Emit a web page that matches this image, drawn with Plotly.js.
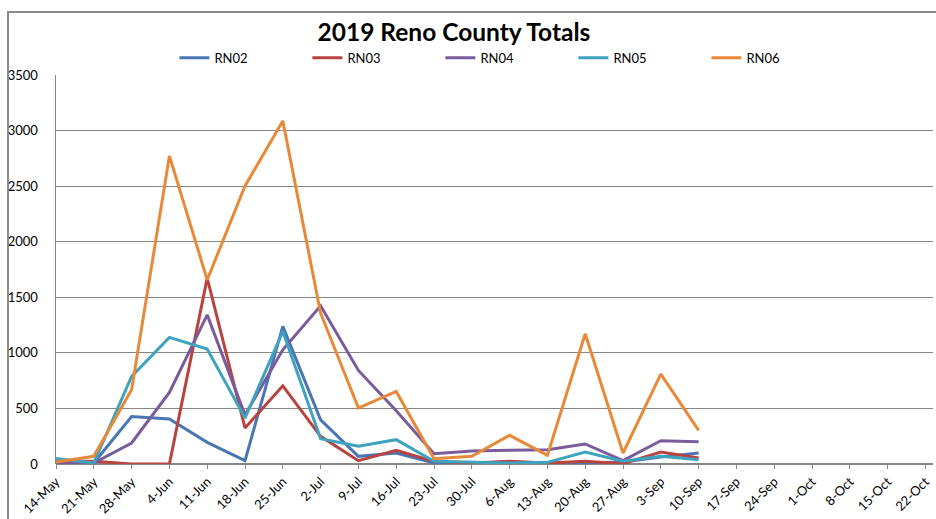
<!DOCTYPE html>
<html>
<head>
<meta charset="utf-8">
<script src="https://cdn.plot.ly/plotly-3.0.1.min.js"></script>
<style>
html,body{margin:0;padding:0;background:#fff;}
#wrap{position:relative;width:936px;height:519px;overflow:hidden;}
#chart{width:936px;height:519px;}
#frame{position:absolute;left:7px;top:11px;width:940px;height:520px;border-left:2px solid #8c8c8c;border-top:2px solid #8c8c8c;pointer-events:none;}
</style>
</head>
<body>
<div id="wrap"><div id="chart"></div><div id="frame"></div></div>
<script>
const dates = ["14-May","21-May","28-May","4-Jun","11-Jun","18-Jun","25-Jun","2-Jul","9-Jul","16-Jul","23-Jul","30-Jul","6-Aug","13-Aug","20-Aug","27-Aug","3-Sep","10-Sep","17-Sep","24-Sep","1-Oct","8-Oct","15-Oct","22-Oct"];
const RN02 = [5, 9, 428, 405, 195, 30, 1238, 398, 69, 99, 9, 10, 18, 10, 10, 18, 63, 99];
const RN03 = [24, 24, 0, 0, 1672, 324, 704, 249, 30, 123, 24, 9, 24, 9, 24, 3, 108, 54];
const RN04 = [0, 9, 189, 644, 1342, 440, 1028, 1423, 842, 480, 93, 117, 123, 129, 180, 30, 210, 200];
const RN05 = [50, 9, 788, 1139, 1034, 413, 1193, 228, 159, 219, 24, 15, 9, 15, 108, 24, 69, 39];
const RN06 = [18, 69, 668, 2772, 1657, 2502, 3087, 1357, 503, 653, 48, 69, 258, 78, 1172, 99, 809, 303];
const seriesNames = ["RN02","RN03","RN04","RN05","RN06"];
const seriesData = [RN02, RN03, RN04, RN05, RN06];
const colors = ["#4A76B4","#B9433F","#7A5C9C","#3FA3BE","#E8893A"];
const yTicks = [0,500,1000,1500,2000,2500,3000,3500];

const traces = seriesNames.map((n,i)=>({
  type:'scatter', mode:'lines', name:n,
  x: dates.slice(0, seriesData[i].length),
  y: seriesData[i],
  line:{color:colors[i], width:3}
}));

const layout = {
  width:936, height:519,
  margin:{l:56, r:3, t:75, b:55},
  paper_bgcolor:'#fff', plot_bgcolor:'#fff',
  font:{family:'Lato, "Open Sans", sans-serif', size:13, color:'#000'},
  title:{text:'<b>2019 Reno County Totals</b>', font:{family:'Lato, sans-serif', size:24.5, color:'#000'}, x:0.485, xanchor:'center', y:0.938, yanchor:'middle'},
  showlegend:true,
  legend:{orientation:'h', x:0.135, xanchor:'left', y:1.044, yanchor:'middle', entrywidth:88, entrywidthmode:'pixels', font:{size:13}, bgcolor:'rgba(0,0,0,0)', traceorder:'normal'},
  xaxis:{type:'category', categoryorder:'array', categoryarray:dates, tickvals:dates, ticktext:dates,
    range:[0, 23.2], tickangle:-45, showgrid:false, zeroline:false, showline:false,
    ticks:'outside', ticklen:4, tickcolor:'#868686', tickfont:{size:13}},
  yaxis:{range:[0,3500], tickvals:yTicks, showgrid:true, gridcolor:'#868686', gridwidth:1.2,
    zeroline:true, zerolinecolor:'#868686', zerolinewidth:1.5, showline:true, linecolor:'#868686', linewidth:1.5,
    ticks:'', ticklabelstandoff:14, tickfont:{size:13}}
};
Plotly.newPlot('chart', traces, layout, {displayModeBar:false, staticPlot:true});
</script>
</body>
</html>
